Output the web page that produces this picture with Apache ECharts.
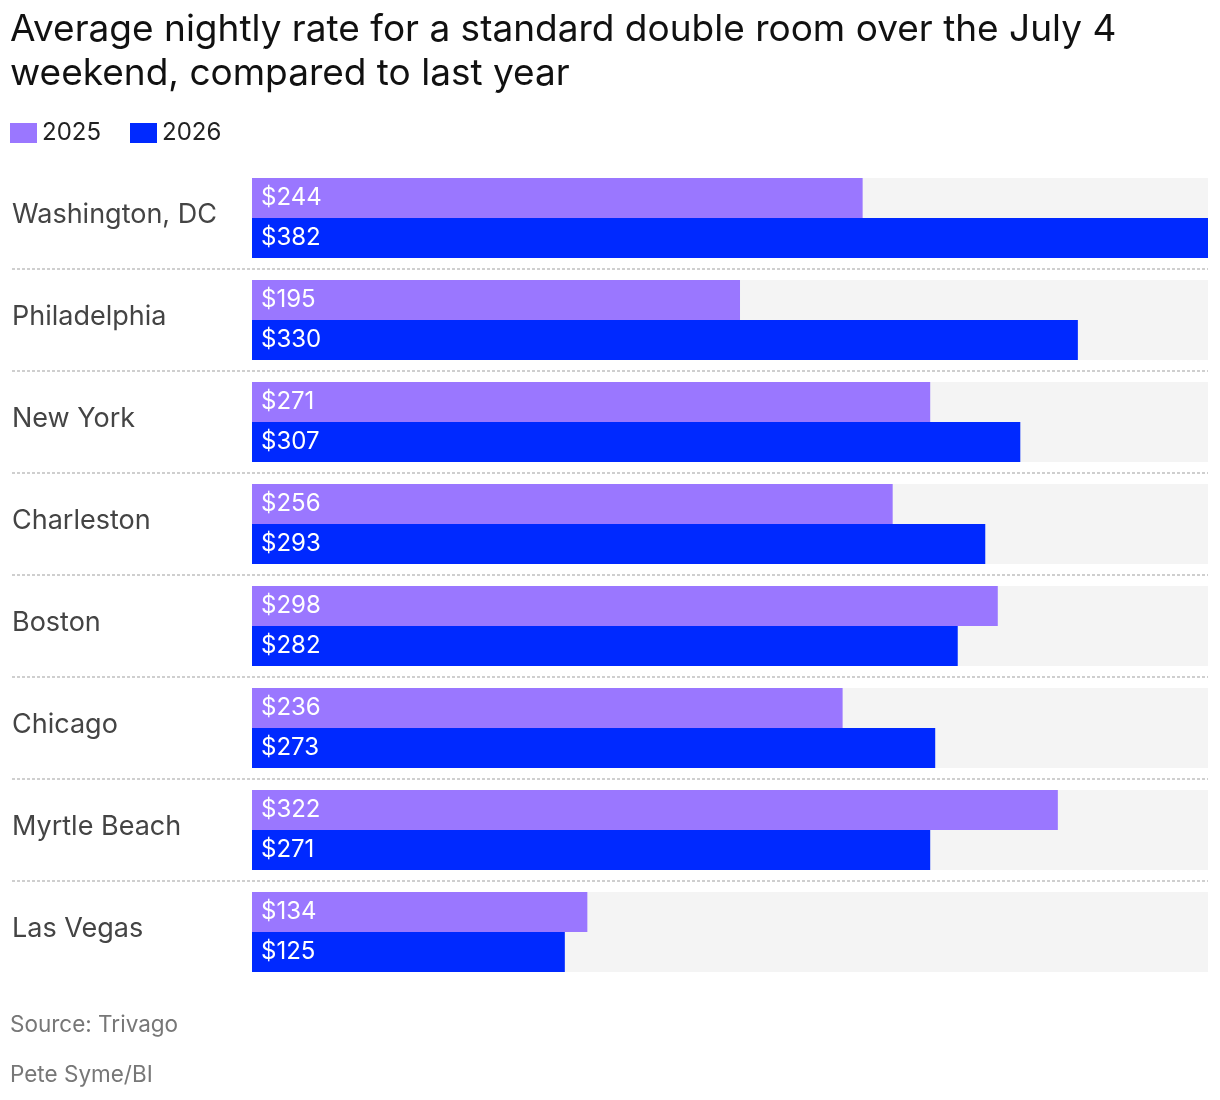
<!DOCTYPE html>
<html>
<head>
<meta charset="utf-8">
<script src="https://cdn.jsdelivr.net/npm/echarts@6/dist/echarts.min.js"></script>
<style>
  html, body { margin: 0; padding: 0; background: #fff; }
  #chart { width: 1220px; height: 1100px; }
</style>
</head>
<body>
<div id="chart"></div>
<script>
const cities = [
  'Washington, DC',
  'Philadelphia',
  'New York',
  'Charleston',
  'Boston',
  'Chicago',
  'Myrtle Beach',
  'Las Vegas',
];
const rates2025 = [244, 195, 271, 256, 298, 236, 322, 134];
const rates2026 = [382, 330, 307, 293, 282, 273, 271, 125];

const FONT = 'Inter, "Noto Sans", sans-serif';

// shared bar label style, white text inside the bar
const barLabel = {
  show: true,
  position: 'insideLeft',
  distance: 9,
  color: '#fff',
  fontFamily: FONT,
  fontSize: 24,
  formatter: (p) => '$' + p.value,
};

const option = {
  animation: false,
  backgroundColor: '#fff',
  title: [
    {
      text: 'Average nightly rate for a standard double room over the July 4\nweekend, compared to last year',
      left: 10,
      top: 8,
      padding: 0,
      textStyle: {
        fontFamily: FONT,
        fontSize: 37,
        fontWeight: 'normal',
        color: '#111',
        lineHeight: 44,
      },
    },
    {
      text: 'Source: Trivago',
      left: 10,
      top: 1014,
      padding: 0,
      textStyle: { fontFamily: FONT, fontSize: 22.5, fontWeight: 'normal', color: '#777' },
    },
    {
      text: 'Pete Syme/BI',
      left: 10,
      top: 1064,
      padding: 0,
      textStyle: { fontFamily: FONT, fontSize: 22.5, fontWeight: 'normal', color: '#777' },
    },
  ],
  legend: {
    left: 10,
    top: 121,
    padding: 0,
    itemWidth: 27,
    itemHeight: 20,
    itemGap: 29,
    icon: 'rect',
    selectedMode: false,
    textStyle: { fontFamily: FONT, fontSize: 24, color: '#222' },
    data: ['2025', '2026'],
  },
  grid: [
    { left: 252, right: 12, top: 167, height: 816 },
    { left: 12, right: 12, top: 167, height: 816 },
  ],
  xAxis: [
    { type: 'value', gridIndex: 0, min: 0, max: 382, show: false },
    { type: 'value', gridIndex: 1, min: 0, max: 1, show: false },
  ],
  yAxis: [
    {
      type: 'category',
      gridIndex: 0,
      data: cities,
      inverse: true,
      axisLine: { show: false },
      axisTick: { show: false },
      splitLine: { show: false },
      axisLabel: {
        align: 'left',
        verticalAlign: 'bottom',
        lineHeight: 6,
        margin: 240,
        color: '#444',
        fontFamily: FONT,
        fontSize: 27,
      },
    },
    {
      // separator rows spanning the full width
      type: 'category',
      gridIndex: 1,
      data: cities,
      inverse: true,
      axisLine: { show: false },
      axisTick: { show: false },
      axisLabel: { show: false },
      splitLine: {
        show: true,
        showMinLine: false,
        showMaxLine: false,
        lineStyle: { color: '#cfcfcf', width: 2, type: [3, 2] },
      },
    },
  ],
  series: [
    {
      name: '2025',
      type: 'bar',
      xAxisIndex: 0,
      yAxisIndex: 0,
      data: rates2025,
      barWidth: 40,
      barGap: '0%',
      itemStyle: { color: '#9a77ff' },
      showBackground: true,
      backgroundStyle: { color: '#f4f4f4' },
      label: barLabel,
    },
    {
      name: '2026',
      type: 'bar',
      xAxisIndex: 0,
      yAxisIndex: 0,
      data: rates2026,
      barWidth: 40,
      barGap: '0%',
      itemStyle: { color: '#0029ff' },
      showBackground: true,
      backgroundStyle: { color: '#f4f4f4' },
      label: barLabel,
    },
  ],
};

const chart = echarts.init(document.getElementById('chart'));
chart.setOption(option);
</script>
</body>
</html>
